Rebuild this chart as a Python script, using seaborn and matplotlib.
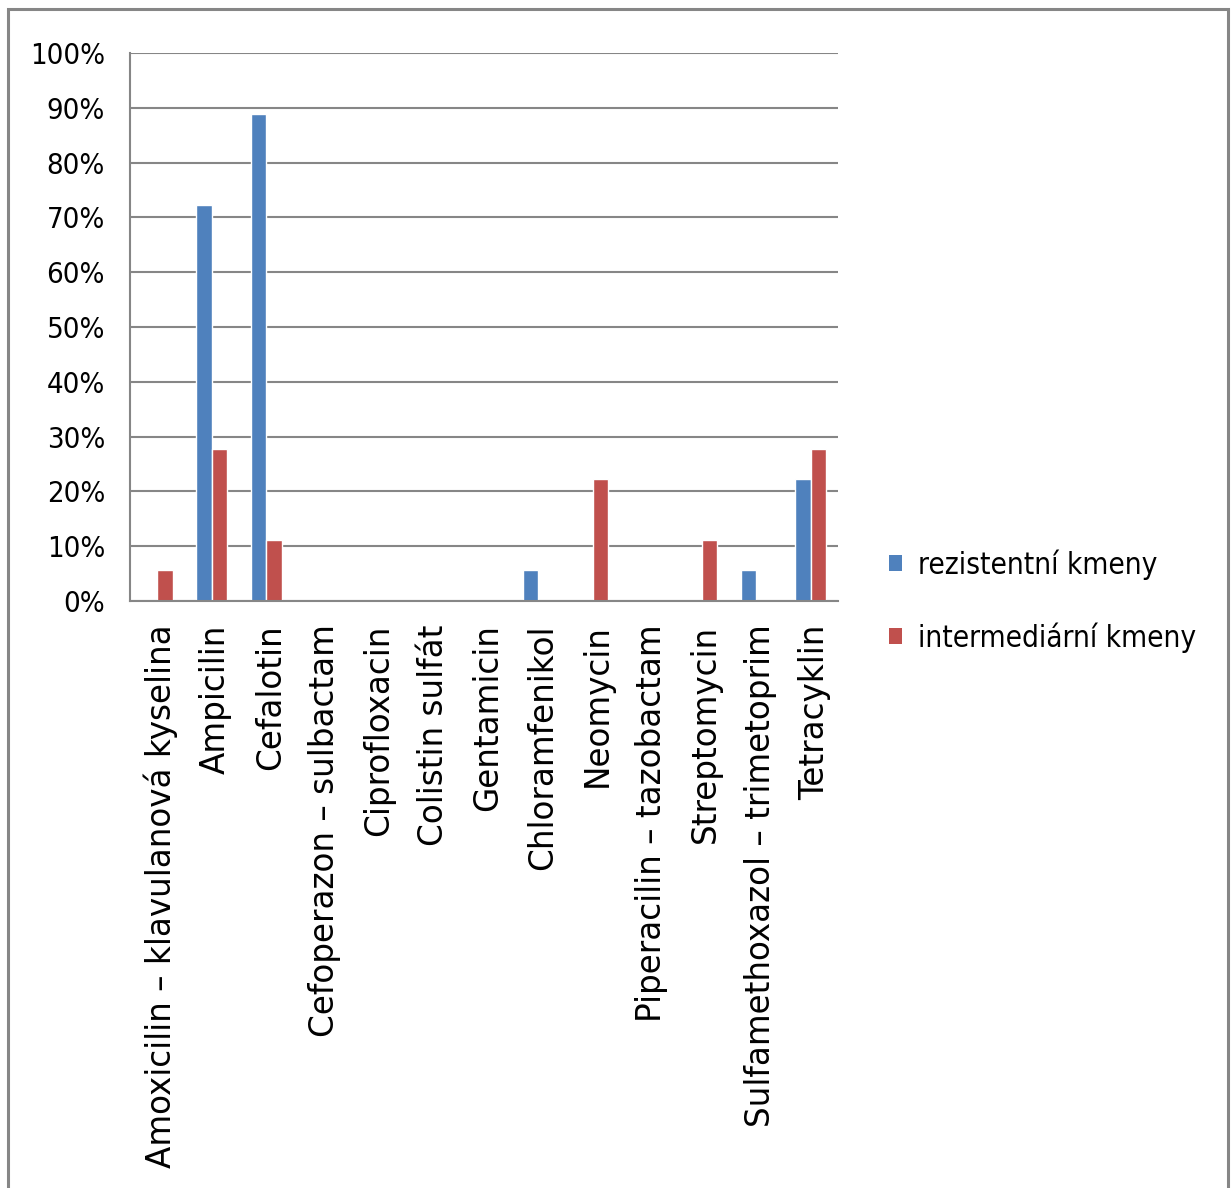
import matplotlib
matplotlib.use("Agg")
import matplotlib.pyplot as plt
import matplotlib.transforms as mtransforms
import seaborn as sns
import pandas as pd
from matplotlib.patches import Rectangle, Patch
from matplotlib.ticker import FixedLocator, PercentFormatter
from matplotlib.font_manager import FontProperties

categories = [
    "Amoxicilin – klavulanová kyselina", "Ampicilin", "Cefalotin",
    "Cefoperazon – sulbactam", "Ciprofloxacin", "Colistin sulfát",
    "Gentamicin", "Chloramfenikol", "Neomycin", "Piperacilin – tazobactam",
    "Streptomycin", "Sulfamethoxazol – trimetoprim", "Tetracyklin",
]
resistant = [0, 72.2, 88.9, 0, 0, 0, 0, 5.6, 0, 0, 0, 5.6, 22.2]
intermediate = [5.6, 27.8, 11.1, 0, 0, 0, 0, 0, 22.2, 0, 11.1, 0, 27.8]
series_names = ["rezistentní kmeny", "intermediární kmeny"]
colors = ["#4F81BD", "#C0504D"]

df = pd.DataFrame({
    "cat": categories * 2,
    "val": resistant + intermediate,
    "series": [series_names[0]] * len(categories) + [series_names[1]] * len(categories),
})

sns.set_style("white")
plt.rcParams["font.family"] = ["DejaVu Sans"]
plt.rcParams["text.color"] = "black"

fig = plt.figure(figsize=(12.32, 11.88), dpi=100)
ax = fig.add_axes([130 / 1232, 1 - 601 / 1188, 708 / 1232, 548 / 1188])

sns.barplot(data=df, x="cat", y="val", hue="series", palette=colors,
            width=0.57, saturation=1, ax=ax, legend=False)

grey = "#868686"
ax.set_xlim(-0.5, len(categories) - 0.5)
ax.set_ylim(0, 100)
ax.set_yticks(range(0, 101, 10))
ax.yaxis.set_major_formatter(PercentFormatter(decimals=0))
ax.grid(axis="y", color=grey, linewidth=1.5)
ax.set_axisbelow(True)
for s in ["top", "right"]:
    ax.spines[s].set_visible(False)
for s in ["left", "bottom"]:
    ax.spines[s].set_color(grey)
    ax.spines[s].set_linewidth(1.5)

ax.set_xlabel("")
ax.set_ylabel("")
ax.set_xticks(range(len(categories)))
ax.set_xticklabels(categories, rotation=90, fontsize=23.5, va="top", ha="center")
ax.xaxis.set_minor_locator(FixedLocator([i - 0.5 for i in range(len(categories) + 1)]))
ax.tick_params(axis="x", which="major", length=0, pad=17, labelcolor="black")
ax.tick_params(axis="x", which="minor", length=8.5, width=1.5, color=grey, direction="out")
ax.tick_params(axis="y", which="major", length=6, width=1.5, color=grey, direction="out",
               pad=12, labelcolor="black")
shift = mtransforms.ScaledTranslation(4 / 100, 0, fig.dpi_scale_trans)
for lbl in ax.get_xticklabels():
    lbl.set_transform(lbl.get_transform() + shift)
cond = FontProperties(family="DejaVu Sans", stretch="condensed", size=21)
for lbl in ax.get_yticklabels():
    lbl.set_fontproperties(cond)

handles = [Patch(facecolor=c, edgecolor="none") for c in colors]
fig.legend(handles, series_names, loc="center left",
           bbox_to_anchor=(862 / 1232, 1 - 601 / 1188), frameon=False,
           prop=FontProperties(family="DejaVu Sans", stretch="condensed", size=21.3),
           handlelength=0.45, handleheight=0.45, handletextpad=0.55, labelspacing=1.45)

fig.add_artist(Rectangle((8 / 1232, -0.05), 1220 / 1232, 1.05 - 9 / 1188,
                         transform=fig.transFigure, fill=False, edgecolor=grey,
                         linewidth=2.2, clip_on=False))

fig.savefig("out.png", dpi=100)
